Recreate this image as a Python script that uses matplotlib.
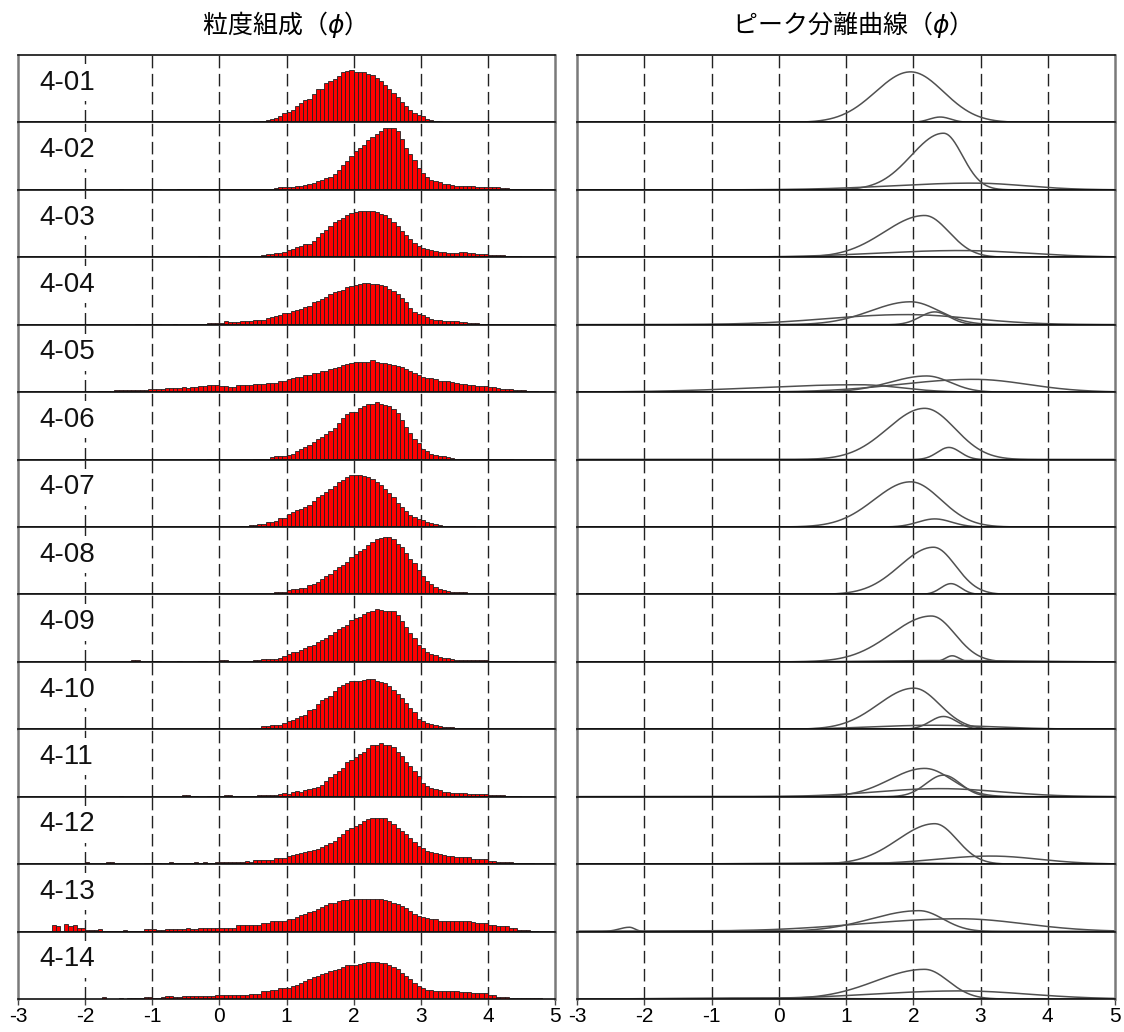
import numpy as np
import matplotlib
# Use 'Agg' backend so the figure is rendered without a display
matplotlib.use('Agg')
import matplotlib.pyplot as plt

# -------------------------
# DATA
# -------------------------
# sample names (one row per sample)
samples = ["4-01", "4-02", "4-03", "4-04", "4-05", "4-06", "4-07",
           "4-08", "4-09", "4-10", "4-11", "4-12", "4-13", "4-14"]

# histogram bin width (phi) and the phi where each histogram's first bar starts
BIN = 0.0625
hist_start = [0.25, -1.5, -1.5, -1.25, -1.8125, -0.1875, -1.625,
              0.375, -1.3125, -1.25, -1.5, -2.0, -2.5, -1.75]

# bar heights (% of panel height), one value per 1/16 phi bin
h4_01 = [0.5, 1, 1, 1, 2, 2, 2, 4, 5.5, 7, 10, 14, 15, 19, 24, 29, 33, 35, 42, 49,
         50, 58, 62, 65, 69, 75, 76, 78, 75, 75, 75, 72, 71, 66, 61, 56, 50, 44, 37, 31,
         24, 18, 14, 11, 9, 5.5, 4, 2, 1.5, 1, 1, 0.5]
h4_02 = [0.7, 0, 0, 0, 0, 0.7, 0.7, 0, 0.7, 0.7, 0, 0, 0, 0, 0.7, 0.7, 0.7, 0.7, 0.7, 0.7,
         0.7, 0.7, 0.7, 0.7, 0.7, 0.7, 0.7, 0.7, 0.7, 0.7, 0.7, 0.7, 0.7, 0.7, 2, 1, 1.5, 3, 3.5, 3.5,
         4.5, 4.5, 5.5, 6, 7.5, 9, 10, 13, 14, 17, 19, 23, 29, 37, 43, 50, 58, 62, 67, 74,
         79, 83, 87, 91, 92, 92, 87, 75, 62, 53, 44, 33, 25, 19, 15, 13, 11, 9, 8, 7,
         6, 5.5, 5, 5, 5, 4.5, 4.5, 4.5, 4, 4, 3.5, 3, 2.5, 2, 0.7, 0.7, 0.7, 0.7, 0.7, 0.7,
         0.7]
h4_03 = [0.7, 0, 0, 0, 0.7, 0, 0, 0, 0.7, 0, 0, 0.7, 0.7, 0.7, 0, 0.7, 0.7, 0.7, 0, 1.5,
         1.5, 0, 0, 0, 0.7, 0.7, 1.5, 1.5, 1.5, 1.5, 1.5, 1.5, 2.5, 2.5, 4, 5.5, 5.5, 6, 6, 7.5,
         11, 13, 15, 17, 19, 20, 24, 30, 36, 40, 47, 53, 56, 59, 63, 65, 67, 69, 69, 69,
         69, 67, 64, 62, 58, 52, 46, 39, 33, 27, 21, 17, 14, 12, 11, 9.5, 8, 8, 6.5, 6.5,
         7, 7.5, 7.5, 6, 6, 5, 5, 4.5, 4, 4, 3.5, 3, 2.5, 1.5, 1.5, 1.5, 0.7, 0.7, 0.7, 0.7,
         0.7, 0.7, 0.7]
h4_04 = [0.7, 0, 0, 0, 0, 0.7, 0, 0, 0, 0.7, 0, 0, 0, 0.7, 0.7, 1, 1, 2, 2, 2,
         3, 5, 3.5, 3.5, 3.5, 5, 5, 5, 7.5, 7.5, 7.5, 9.5, 11, 13, 14, 17, 17, 20, 22, 24,
         26, 28, 33, 35, 38, 41, 45, 49, 50, 52, 56, 57, 59, 61, 62, 62, 61, 60, 59, 57,
         53, 50, 46, 39, 34, 25, 19, 16, 14, 11, 9, 7.5, 6.5, 5, 5, 5, 5, 4, 4, 3,
         3, 3, 0.7, 0.7, 0.7, 0.7, 0.7, 0.7, 0.7]
h4_05 = [2, 2, 2, 0.7, 3, 3, 3, 2.5, 3, 3, 3, 3, 4, 4, 4.5, 5, 6.5, 6.5, 6, 6.5,
         7.5, 6.5, 7.5, 8, 9.5, 8.5, 10, 11, 11, 9.5, 9.5, 7.5, 7.5, 11, 11, 11, 11, 12, 12, 12,
         13, 13, 14, 16, 16, 19, 21, 23, 23, 26, 26, 28, 28, 31, 31, 34, 36, 38, 40, 41,
         43, 45, 45, 45, 45, 47, 44, 43, 43, 42, 40, 39, 37, 35, 31, 28, 26, 23, 21, 21,
         19, 17, 16, 16, 15, 13, 12, 12, 11, 10, 9.5, 9, 9, 7.5, 7.5, 6, 5, 5, 4, 3.5,
         3, 2.5, 2, 2, 1.5, 0.7, 0.7]
h4_06 = [0.7, 0, 0, 0, 0, 0, 0, 0, 0.7, 0.7, 0, 1, 1, 1.5, 1.5, 4, 5, 5, 6, 7.5,
         9, 12, 15, 18, 21, 26, 30, 33, 38, 42, 47, 54, 62, 67, 70, 71, 76, 80, 82, 83,
         85, 83, 81, 79, 75, 69, 59, 49, 39, 31, 24, 16, 13, 9, 7, 5.5, 5, 3.5, 3, 0.8,
         0.8, 0.8, 0.8, 0.8, 0.8, 0.8, 0.8, 0.8, 0.8, 0.8, 0.8, 0.8, 0.8]
h4_07 = [0.7, 0.7, 0, 0.7, 0.7, 0, 0, 0, 0, 0, 0.7, 0, 0, 0, 0, 0, 0, 0, 0, 0,
         0, 0, 0, 0, 0, 0, 0, 0, 0, 0, 0, 1.5, 1.5, 3, 3, 4, 4, 7, 7, 9.5,
         13, 14, 20, 22, 25, 27, 29, 33, 39, 44, 47, 52, 56, 61, 67, 70, 74, 77, 77, 77,
         76, 74, 71, 67, 62, 57, 50, 44, 35, 29, 23, 18, 15, 12, 10, 8, 5.5, 4.5, 3, 2,
         0.8, 0.8, 0.8, 0.8, 0.8, 0.8, 0.8]
h4_08 = [0.8, 0.8, 0.8, 0.8, 0.8, 0.8, 0.8, 3, 4, 4, 6, 8, 8, 9, 10, 14, 15, 19, 23, 27,
         31, 36, 41, 44, 48, 56, 60, 64, 68, 73, 78, 82, 84, 85, 85, 82, 75, 70, 61, 53,
         46, 36, 28, 20, 16, 11, 8.5, 6, 5.5, 4, 4, 3, 3, 0.8, 0.8, 0.8, 0.8, 0.8, 0.8, 0.8,
         0.8]
h4_09 = [2.5, 2.5, 0, 0, 0, 0.8, 0.8, 0, 0, 0, 0, 0.8, 0, 0, 0, 0, 0.8, 0.8, 0, 0,
         0, 2.5, 2.5, 1.5, 1.5, 1.5, 1.5, 1.5, 1.5, 3, 3, 4.5, 4, 4, 4.5, 6, 8, 11, 14, 15,
         18, 20, 23, 25, 29, 33, 35, 40, 44, 48, 51, 55, 62, 65, 67, 71, 74, 76, 79, 77,
         76, 76, 76, 69, 60, 52, 43, 35, 25, 20, 14, 12, 9.5, 7.5, 6, 5, 4, 3, 3, 3,
         3, 3, 3, 3, 3, 0.8, 0.8, 0.8, 0.8, 0.8, 0.8, 0.8]
h4_10 = [0.8, 0.8, 0, 0, 0.5, 0, 0, 0.8, 0, 0, 0, 0, 0.8, 0.8, 0.8, 0.8, 0.8, 0.8, 0.8, 0.8,
         0.8, 0.8, 0.8, 0.8, 0.8, 0.8, 0.8, 2, 2, 2, 5.5, 5.5, 6.5, 6.5, 6.5, 9, 13, 14, 16, 19,
         21, 29, 30, 38, 43, 46, 50, 57, 62, 65, 69, 71, 71, 72, 73, 75, 74, 72, 70, 69,
         64, 59, 52, 46, 39, 31, 25, 15, 12, 9.5, 8, 6, 5, 4, 4, 3.5, 2.5, 2.5, 2.5, 2.5,
         2.5, 2.5, 2.5, 2.5, 0.8, 0.8, 0.8, 0.8, 0.8, 0.8, 0.8, 0.8, 0.8, 0.8, 0.8, 0.8]
h4_11 = [0.8, 0, 0, 0, 0, 0, 0, 0, 0, 0, 0, 0, 0, 0, 0, 2, 2, 1, 1, 0,
         0, 1.5, 1.5, 1.5, 0.8, 2, 2, 1, 1.5, 1.5, 1.5, 1.5, 1.5, 2.5, 2.5, 2.5, 2.5, 2.5, 3.5, 5.5,
         4, 6.5, 8.5, 6.5, 9.5, 11, 13, 15, 18, 23, 29, 33, 38, 43, 51, 55, 59, 63, 67, 72,
         76, 77, 79, 77, 77, 74, 67, 60, 52, 45, 38, 30, 21, 16, 13, 11, 9.5, 7.5, 6.5, 5.5,
         5.5, 5.5, 5.5, 3.5, 3.5, 3.5, 3.5, 3.5, 2.5, 2.5, 2.5, 2.5, 0.8, 0.8, 0.8, 0.8]
h4_12 = [3.5, 0, 0, 0, 0, 3, 3, 0, 0, 0, 0, 0.8, 0, 0.8, 2, 2, 1.5, 1.5, 0.8, 0.8,
         3.5, 1.5, 1.5, 1.5, 1.5, 1.5, 3, 1.5, 3, 1.5, 1.5, 3, 3, 3, 3, 3, 3, 3, 4.5, 3,
         6, 6, 6, 6, 6, 8.5, 8.5, 8.5, 12, 13, 15, 16, 18, 20, 21, 22, 25, 28, 31, 35,
         40, 44, 51, 53, 56, 60, 64, 67, 69, 69, 69, 68, 64, 60, 54, 49, 44, 39, 33, 27,
         24, 20, 18, 16, 15, 14, 12, 12, 11, 11, 11, 10, 7, 7, 7, 7, 5, 5, 3.5, 3.5,
         3.5, 3.5, 2, 2, 2, 2, 2, 0.8, 0.8]
h4_13 = [9.4, 8.4, 0, 11, 8.4, 9.4, 6, 6, 2.5, 2.5, 2.5, 4.5, 1, 1, 1, 1, 1, 3, 1.5, 1.5,
         1.5, 1.5, 3.5, 3.5, 3.5, 2, 2, 4.5, 3.5, 3.5, 3.5, 3.5, 5.5, 4.5, 4.5, 5.5, 5.5, 5.5, 6, 6,
         6, 6, 6, 6, 10, 10, 10, 10, 10, 10, 12, 12, 15, 15, 15, 15, 18, 19, 21, 24,
         26, 29, 30, 33, 36, 39, 42, 43, 46, 47, 47, 48, 48, 48, 48, 48, 48, 48, 48, 47,
         45, 43, 41, 38, 35, 30, 26, 23, 21, 20, 18, 18, 16, 16, 16, 15, 15, 15, 15, 15,
         14, 13, 13, 13, 10, 10, 8, 8, 8, 5, 5, 2.5, 2.5, 2.5, 1, 1]
h4_14 = [2.5, 0.5, 0.5, 0.5, 2, 0.5, 2, 2, 1, 1, 3.5, 3.5, 2, 2, 3.5, 4.5, 4.5, 2.5, 2.5, 5,
         5, 5, 5, 5, 5, 5, 5, 6.5, 6.5, 6.5, 6.5, 6.5, 6.5, 6.5, 6.5, 8, 8, 8, 12, 12,
         14, 14, 16, 16, 17, 19, 21, 24, 27, 30, 32, 34, 37, 39, 41, 43, 45, 47, 50, 51,
         51, 52, 54, 55, 55, 55, 54, 53, 51, 48, 44, 39, 34, 29, 23, 19, 17, 14, 14, 12,
         12, 12, 12, 12, 12, 11, 11, 11, 9, 9, 9, 9, 5.5, 5.5, 2.5, 2.5, 2.5, 1, 1, 1,
         1, 1, 1, 1, 1]
hist_heights = [h4_01, h4_02, h4_03, h4_04, h4_05, h4_06, h4_07,
                h4_08, h4_09, h4_10, h4_11, h4_12, h4_13, h4_14]

# separated peaks: (centre phi, height %, sigma left, sigma right)
pk4_01 = [(1.96, 75, 0.52, 0.49), (2.40, 8, 0.16, 0.16)]
pk4_02 = [(2.45, 84, 0.48, 0.28), (2.90, 10, 1.20, 0.76)]
pk4_03 = [(2.17, 62, 0.60, 0.36), (2.70, 10, 1.25, 1.00)]
pk4_04 = [(1.96, 34, 0.59, 0.42), (2.32, 19, 0.22, 0.22), (1.90, 15, 1.17, 0.98)]
pk4_05 = [(2.20, 24, 0.55, 0.35), (2.90, 19, 1.10, 0.80), (1.20, 11, 1.50, 0.60)]
pk4_06 = [(2.17, 76, 0.55, 0.45), (2.53, 18, 0.17, 0.17)]
pk4_07 = [(1.96, 67, 0.54, 0.45), (2.32, 12, 0.25, 0.25)]
pk4_08 = [(2.30, 70, 0.50, 0.33), (2.56, 16, 0.15, 0.15)]
pk4_09 = [(2.27, 68, 0.60, 0.35), (2.58, 9, 0.10, 0.10), (2.50, 2, 1.00, 1.00)]
pk4_10 = [(2.01, 61, 0.53, 0.38), (2.45, 19, 0.20, 0.20), (2.30, 6, 0.90, 0.90)]
pk4_11 = [(2.17, 42, 0.52, 0.40), (2.45, 32, 0.26, 0.25), (2.40, 12, 0.94, 0.90)]
pk4_12 = [(2.32, 60, 0.55, 0.33), (3.15, 12, 0.80, 0.72), (1.00, 2, 1.20, 1.20)]
pk4_13 = [(2.09, 31, 0.72, 0.35), (2.69, 19, 1.45, 0.96), (-2.22, 6.4, 0.15, 0.08),
          (-0.50, 1.5, 1.20, 1.20)]
pk4_14 = [(2.17, 44, 0.73, 0.35), (2.70, 12, 1.30, 1.00), (-0.50, 1.5, 1.00, 1.00)]
peaks = [pk4_01, pk4_02, pk4_03, pk4_04, pk4_05, pk4_06, pk4_07,
         pk4_08, pk4_09, pk4_10, pk4_11, pk4_12, pk4_13, pk4_14]

x_ticks = [-3, -2, -1, 0, 1, 2, 3, 4, 5]
left_title = "粒度組成（$\\phi$）"
right_title = "ピーク分離曲線（$\\phi$）"

# -------------------------
# LAYOUT (pixels of the 1124x1032 output)
# -------------------------
W, H = 1124, 1032
TOP, BOTTOM = 55, 999
LEFT_COL = (18, 555)
RIGHT_COL = (577, 1115)
JP_FONT = ['Noto Sans CJK JP', 'DejaVu Sans']
NUM_FONT = ['Liberation Sans', 'DejaVu Sans']


def split_gauss(x, mu, h, sl, sr):
    """Peak shape with a different width on each side of the centre."""
    s = np.where(x < mu, sl, sr)
    return h * np.exp(-0.5 * ((x - mu) / s) ** 2)


def style_panel(ax, last):
    """Common frame, grid and tick styling of one strip."""
    ax.set_xlim(-3, 5)
    ax.set_ylim(0, 100)
    for xv in range(-2, 5):
        ax.axvline(xv, color='#222222', lw=1.0, ls=(0, (9, 4)), zorder=0.5)
    for side in ('top', 'bottom'):
        ax.spines[side].set_color('#111111')
        ax.spines[side].set_linewidth(1.2)
    for side in ('left', 'right'):
        ax.spines[side].set_color('#7a7a7a')
        ax.spines[side].set_linewidth(1.8)
    ax.set_yticks([])
    ax.set_xticks(x_ticks)
    if last:
        ax.tick_params(axis='x', length=4, width=1, color='#444444', pad=2,
                       labelsize=15)
        ax.set_xticklabels([str(t) for t in x_ticks], fontfamily=NUM_FONT)
    else:
        ax.tick_params(axis='x', length=0, labelbottom=False)


fig = plt.figure(figsize=(W / 100, H / 100), dpi=100)
row_h = (BOTTOM - TOP) / len(samples)
x_curve = np.linspace(-3, 5, 801)

for i, name in enumerate(samples):
    y0 = 1 - (TOP + (i + 1) * row_h) / H
    last = i == len(samples) - 1

    # left strip: grain size histogram
    axl = fig.add_axes([LEFT_COL[0] / W, y0, (LEFT_COL[1] - LEFT_COL[0]) / W, row_h / H])
    style_panel(axl, last)
    hts = np.array(hist_heights[i], dtype=float)
    edges = hist_start[i] + BIN * np.arange(len(hts))
    keep = hts > 0
    axl.bar(edges[keep], hts[keep], width=BIN, align='edge', color='#ff0000',
            edgecolor='#222222', linewidth=0.6, zorder=2)
    # sample label sits on a white patch that hides the dashed grid line
    axl.text(0.04, 0.59, name, transform=axl.transAxes, ha='left', va='center',
             fontsize=20, fontfamily=NUM_FONT, color='#111111', zorder=5,
             bbox=dict(facecolor='white', edgecolor='none', pad=4))

    # right strip: separated peak curves
    axr = fig.add_axes([RIGHT_COL[0] / W, y0, (RIGHT_COL[1] - RIGHT_COL[0]) / W, row_h / H])
    style_panel(axr, last)
    for mu, h, sl, sr in peaks[i]:
        axr.plot(x_curve, split_gauss(x_curve, mu, h, sl, sr), color='#505050',
                 lw=1.1, zorder=2)

fig.text(278 / W, 1 - 24 / H, left_title, ha='center', va='center', fontsize=18,
         fontfamily=JP_FONT)
fig.text(845 / W, 1 - 24 / H, right_title, ha='center', va='center', fontsize=18,
         fontfamily=JP_FONT)

fig.savefig('out.png', dpi=100)
plt.close(fig)
